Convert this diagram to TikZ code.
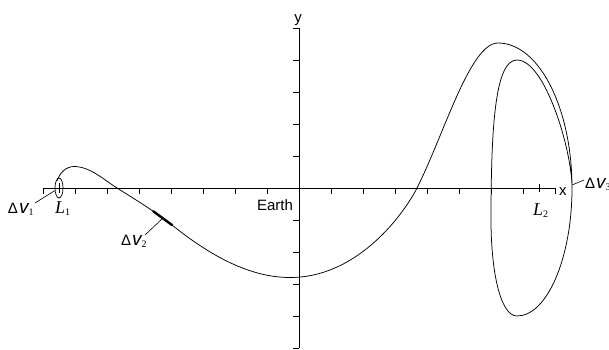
\documentclass[tikz,border=0pt]{standalone}
\usepackage{fontspec}
\setmainfont{Liberation Serif}
\setsansfont{Liberation Sans}
\usetikzlibrary{shapes.geometric}
\newcommand\sflbl{\sffamily\fontsize{15}{15}\selectfont}
\newcommand\dvlbl[1]{{\sffamily\fontsize{15}{15}\selectfont Δ}\kern1pt{\sffamily\itshape\fontsize{19}{19}\selectfont v}{\rmfamily\fontsize{10}{10}\selectfont\raisebox{-2.5pt}{#1}}}
\newcommand\Llbl[1]{{\rmfamily\itshape\fontsize{18}{18}\selectfont L}{\rmfamily\fontsize{10}{10}\selectfont\raisebox{-2.5pt}{#1}}}
\tikzset{
  axisline/.style={line width=0.9pt},
  tickline/.style={line width=0.7pt},
  traj/.style={line width=0.75pt},
  burn/.style={line width=2.4pt, line cap=round},
  leader/.style={line width=0.6pt},
  txt/.style={inner sep=0pt, outer sep=0pt},
}
\begin{document}
\begin{tikzpicture}[x=1pt,y=-1pt]
\useasboundingbox (0,0) rectangle (609,349);
% axes
\draw[axisline] (43,188) -- (555,188);
\draw[axisline] (299,28) -- (299,348);
\foreach \k in {-8,...,8} { \draw[tickline] ({299+32*\k},188) -- ({299+32*\k},194); }
\foreach \k in {-5,...,5} { \draw[tickline] (299,{188+32*\k}) -- (293,{188+32*\k}); }
% L1 and L2 ticks
\draw[tickline] (59,183) -- (59,193);
\draw[tickline] (539,184) -- (539,192);
% L1 halo
\node[draw, ellipse, line width=0.7pt, minimum width=8pt, minimum height=20pt, inner sep=0pt] (L1orb) at (59,188) {};
% trajectory
\draw[traj] (57,181)
  .. controls (59.3,173.3) and (66,166.5) .. (74,166.5)
  .. controls (90,166.5) and (103.5,179.5) .. (117,188)
  .. controls (135.6,199.7) and (154.8,211.3) .. (172,225)
  .. controls (203.2,250) and (245,277.5) .. (290,277.5)
  .. controls (360,277.5) and (405.8,210.3) .. (417,188)
  .. controls (444,134.6) and (470,43) .. (498,43)
  .. controls (539,43) and (572,108) .. (572,188)
  .. controls (572,258) and (547,316) .. (517,316)
  .. controls (500,316) and (491,270) .. (491,220)
  .. controls (491,120) and (496,60) .. (517,60)
  .. controls (545,60) and (572,150) .. (572,188);
% delta v2 burn
\draw[burn] (153.3,211.3) -- (172,225);
% labels
\node[txt, anchor=base] (ylab) at (298,22) {\sflbl y};
\node[txt, anchor=base west] (xlab) at (559,195) {\sflbl x};
\node[txt, anchor=base east] (earth) at (293,210) {\sflbl Earth};
\node[txt, anchor=base west] (dv1) at (8,213) {\dvlbl{1}};
\node[txt, anchor=base west] (dv2) at (121,245) {\dvlbl{2}};
\node[txt, anchor=base west] (dv3) at (585,188) {\dvlbl{3}};
\node[txt, anchor=base west] (L1lab) at (55,213) {\Llbl{1}};
\node[txt, anchor=base west] (L2lab) at (533,215) {\Llbl{2}};
% leaders
\coordinate (dv1a) at (35,203);
\coordinate (dv2a) at (145,235);
\coordinate (burn2) at (163,218);
\coordinate (dv3a) at (584,180);
\coordinate (orb3) at (572,185);
\draw[leader] (dv1a) -- (L1orb);
\draw[leader] (dv2a) -- (burn2);
\draw[leader] (dv3a) -- (orb3);
\end{tikzpicture}
\end{document}
